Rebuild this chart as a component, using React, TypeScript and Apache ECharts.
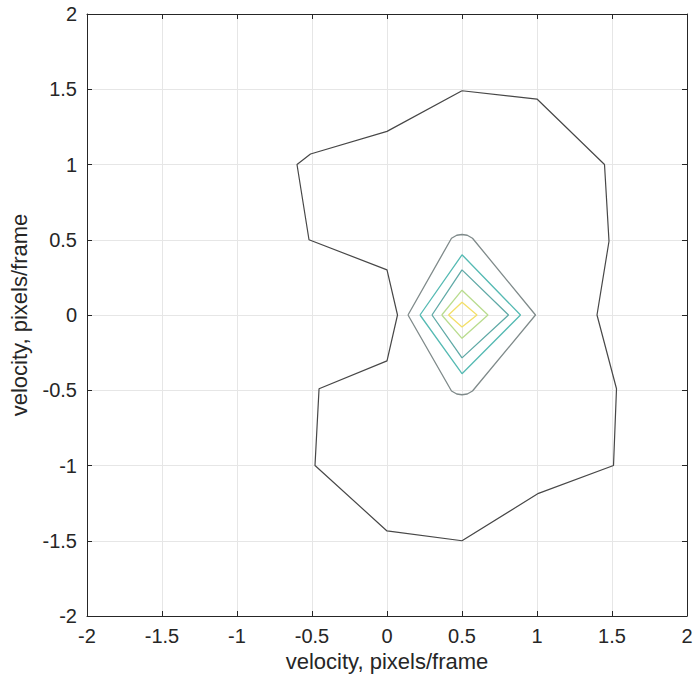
import React, { useEffect, useRef } from "react";
import * as echarts from "echarts";

// Velocity-space contour levels, each a closed polygon of [vx, vy] points.
const outerLevel: [number, number][] = [
  [0.5, 1.49], [1.0, 1.435], [1.45, 1.0], [1.48, 0.49], [1.4, 0.0],
  [1.53, -0.49], [1.51, -1.0], [1.01, -1.185], [0.5, -1.5], [0.0, -1.435],
  [-0.48, -1.0], [-0.453, -0.49], [0.0, -0.305], [0.07, 0.0], [0.0, 0.3],
  [-0.52, 0.5], [-0.6, 1.0], [-0.51, 1.07], [0.0, 1.22], [0.5, 1.49],
];

const level1: [number, number][] = [
  [0.14, 0.0], [0.43, 0.51], [0.465, 0.53], [0.5, 0.535], [0.535, 0.53],
  [0.57, 0.51], [0.99, 0.0], [0.57, -0.505], [0.535, -0.525], [0.5, -0.53],
  [0.465, -0.525], [0.43, -0.505], [0.14, 0.0],
];

const level2: [number, number][] = [
  [0.22, 0.0], [0.5, 0.4], [0.89, 0.0], [0.5, -0.39], [0.22, 0.0],
];

const level3: [number, number][] = [
  [0.3, 0.0], [0.5, 0.3], [0.81, 0.0], [0.5, -0.285], [0.3, 0.0],
];

const level4: [number, number][] = [
  [0.365, 0.0], [0.5, 0.165], [0.673, 0.0], [0.5, -0.155], [0.365, 0.0],
];

const level5: [number, number][] = [
  [0.41, 0.0], [0.5, 0.085], [0.6, 0.0], [0.5, -0.08], [0.41, 0.0],
];

const levels = [outerLevel, level1, level2, level3, level4, level5];
const levelColors = ["#474747", "#7f8a8a", "#55bab3", "#5fa9a6", "#b9dc8e", "#f3df68"];

const axisTicks = [-2, -1.5, -1, -0.5, 0, 0.5, 1, 1.5, 2];
const axisTitle = "velocity, pixels/frame";

const textColor = "#262626";
const fontFamily = "Liberation Sans, Arial, sans-serif";
const tickFontSize = 20;
const titleFontSize = 22;

export default function App() {
  const ref = useRef<HTMLDivElement>(null);

  useEffect(() => {
    if (!ref.current) return;
    const chart = echarts.init(ref.current, null, { renderer: "svg" });

    const min = axisTicks[0];
    const max = axisTicks[axisTicks.length - 1];
    const interval = axisTicks[1] - axisTicks[0];

    const mainAxis = (name: string, nameGap: number, labelMargin: number) => ({
      type: "value" as const,
      min,
      max,
      interval,
      name,
      nameLocation: "middle" as const,
      nameGap,
      nameTextStyle: { color: textColor, fontSize: titleFontSize, fontFamily },
      axisLine: { show: true, onZero: false, lineStyle: { color: textColor, width: 1 } },
      axisTick: { show: true, inside: true, length: 5, lineStyle: { color: textColor } },
      axisLabel: {
        color: textColor,
        fontSize: tickFontSize,
        fontFamily,
        margin: labelMargin,
        formatter: (v: number) => String(v),
      },
      splitLine: { show: true, lineStyle: { color: "#e6e6e6", width: 1 } },
    });

    const boxAxis = (position: string) => ({
      type: "value" as const,
      min,
      max,
      interval,
      position,
      axisLine: { show: true, onZero: false, lineStyle: { color: textColor, width: 1 } },
      axisTick: { show: true, inside: true, length: 5, lineStyle: { color: textColor } },
      axisLabel: { show: false },
      splitLine: { show: false },
    });

    chart.setOption({
      animation: false,
      backgroundColor: "#ffffff",
      grid: { left: 87, right: 11, top: 14, bottom: 69, containLabel: false },
      xAxis: [
        { ...mainAxis(axisTitle, 34, 10), position: "bottom" },
        boxAxis("top"),
      ],
      yAxis: [
        { ...mainAxis(axisTitle, 57, 10), position: "left" },
        boxAxis("right"),
      ],
      series: levels.map((pts, i) => ({
        type: "line",
        xAxisIndex: 0,
        yAxisIndex: 0,
        data: pts,
        symbol: "none",
        silent: true,
        lineStyle: { color: levelColors[i], width: i === 0 ? 1.2 : 1.3 },
        z: 2 + i,
      })),
    });

    return () => chart.dispose();
  }, []);

  return (
    <div
      ref={ref}
      style={{ position: "fixed", left: 0, top: 0, width: 698, height: 685, background: "#fff" }}
    />
  );
}
